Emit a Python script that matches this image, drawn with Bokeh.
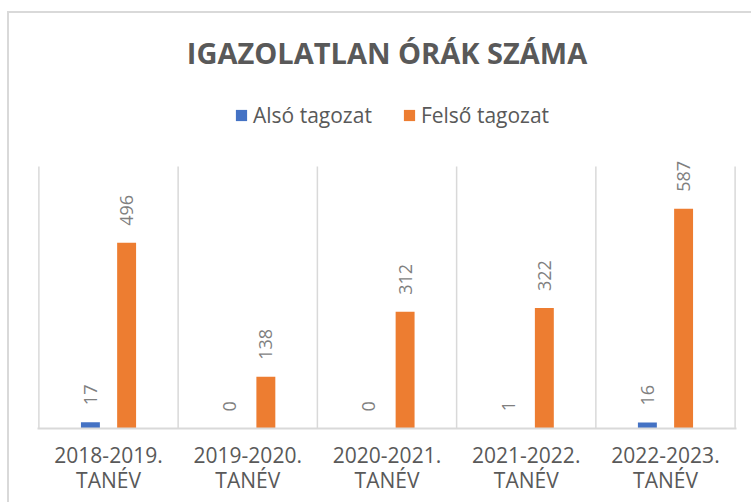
from bokeh.plotting import figure
from bokeh.models import Range1d, FixedTicker, Legend, LegendItem, ColumnDataSource, Label
from bokeh.core.properties import value
from bokeh.embed import file_html
from bokeh.resources import INLINE
import math

categories = ["2018-2019.\nTANÉV", "2019-2020.\nTANÉV", "2020-2021.\nTANÉV",
              "2021-2022.\nTANÉV", "2022-2023.\nTANÉV"]
also = [17, 0, 0, 1, 16]
felso = [496, 138, 312, 322, 587]
series_names = ["Alsó tagozat", "Felső tagozat"]
title_text = "IGAZOLATLAN ÓRÁK SZÁMA"
y_max = 700

BLUE = "#4472C4"
ORANGE = "#ED7D31"
GRID = "#D9D9D9"
TXT = "#595959"
LBL = "#7F7F7F"
FONT = "Open Sans"

W, H = 744, 491
MB_L, MB_R, MB_B = 28, 17, 76
frame_h = H - MB_B            # frame spans full top
plot_top_px = 153             # canvas y where the value axis max sits
y_end = y_max * frame_h / (frame_h - plot_top_px)

n = len(categories)
centers = [i + 0.5 for i in range(n)]
off = 0.13
bw = 0.136

p = figure(width=W, height=H, output_backend="svg", toolbar_location=None,
           x_range=Range1d(-0.01, n + 0.01), y_range=Range1d(0, y_end),
           min_border_left=MB_L, min_border_right=MB_R, min_border_bottom=MB_B,
           min_border_top=0,
           styles={"border-left": "2px solid #D9D9D9", "border-top": "2px solid #D9D9D9",
                   "margin-top": "11px", "margin-left": "7px"})

p.outline_line_color = None
p.background_fill_color = "white"
p.border_fill_color = "white"
p.yaxis.visible = False
p.xgrid.visible = False
p.ygrid.visible = False

# category separators
bounds = list(range(n + 1))
p.segment(x0=bounds, x1=bounds, y0=[0] * len(bounds), y1=[y_max] * len(bounds),
          line_color=GRID, line_width=1.5)

src_a = ColumnDataSource(dict(x=[c - off for c in centers], y=also,
                              t=[str(v) for v in also]))
src_f = ColumnDataSource(dict(x=[c + off for c in centers], y=felso,
                              t=[str(v) for v in felso]))

ra = p.vbar(x="x", top="y", width=bw, bottom=0, source=src_a,
            fill_color=BLUE, line_color=None)
rf = p.vbar(x="x", top="y", width=bw, bottom=0, source=src_f,
            fill_color=ORANGE, line_color=None)

for src in (src_a, src_f):
    p.text(x="x", y="y", text="t", source=src, angle=math.pi / 2,
           text_align="left", text_baseline="middle", y_offset=-17,
           text_font=value(FONT), text_font_size="18px", text_color=LBL)

frame_w = W - MB_L - MB_R
title = Label(x=frame_w / 2, y=frame_h - 39, x_units="screen", y_units="screen",
              text=title_text, text_align="center", text_baseline="alphabetic",
              text_font=FONT, text_font_size="29px", text_font_style="bold",
              text_color=TXT)
p.add_layout(title)

legend = Legend(items=[LegendItem(label=series_names[0], renderers=[ra]),
                       LegendItem(label=series_names[1], renderers=[rf])],
                orientation="horizontal", location=(197, frame_h - 102 - 14),
                label_text_font=FONT, label_text_font_size="21px",
                label_text_color=TXT, glyph_width=14, glyph_height=14,
                label_standoff=5, spacing=30, padding=0, margin=0,
                border_line_color=None, background_fill_alpha=0)
p.add_layout(legend, "center")

xa = p.xaxis[0]
xa.ticker = FixedTicker(ticks=centers)
xa.major_label_overrides = {c: lab for c, lab in zip(centers, categories)}
xa.major_tick_line_color = None
xa.minor_tick_line_color = None
xa.axis_line_color = GRID
xa.axis_line_width = 2
xa.major_label_text_font = FONT
xa.major_label_text_font_size = "21px"
xa.major_label_text_color = TXT
xa.major_label_standoff = 6
xa.major_label_text_line_height = 0.92

open("out.html", "w").write(file_html(p, INLINE))
